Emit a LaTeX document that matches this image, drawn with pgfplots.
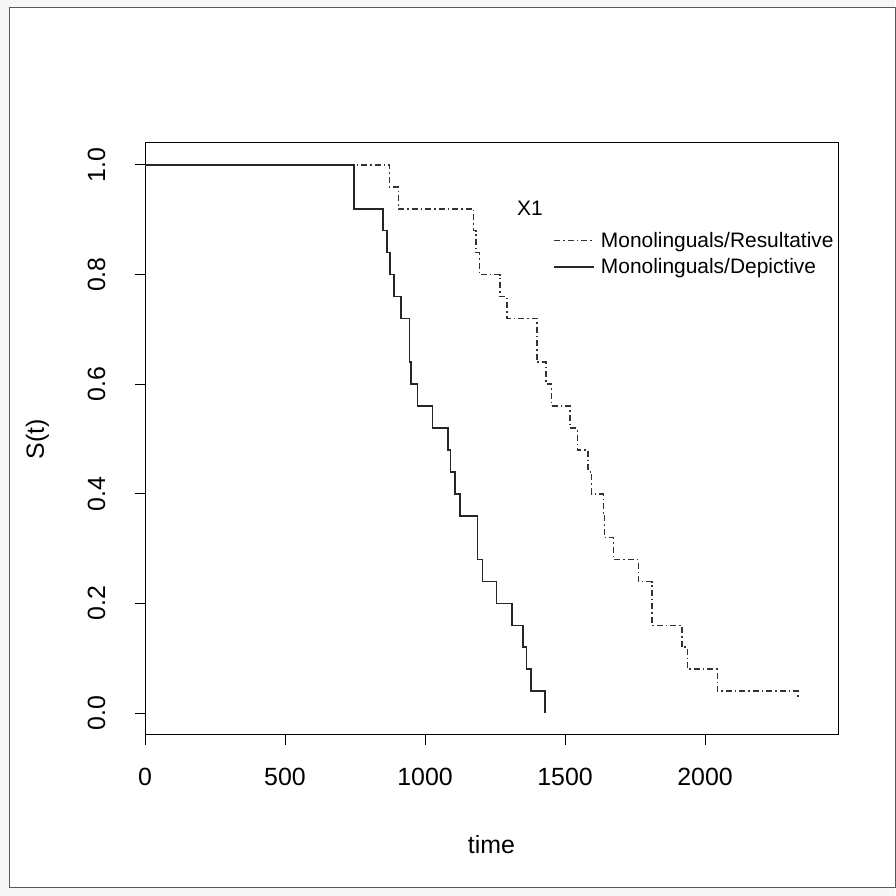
\documentclass[border=0pt]{standalone}
\usepackage{fontspec}
\setmainfont{Liberation Sans}
\usepackage{pgfplots}
\pgfplotsset{compat=1.18}
\begin{document}
\begin{tikzpicture}[x=1bp,y=1bp]
\fill[gray!6] (0,0) rectangle (895,896);
\filldraw[fill=white,draw=gray!70!black,line width=1bp] (9,8) rectangle (895,888);
\begin{axis}[at={(145bp,161bp)},anchor=south west,scale only axis,
 width=693bp,height=592bp,
 xmin=0,xmax=2475,ymin=-0.04,ymax=1.04,
 xtick={0,500,1000,1500,2000},ytick={0,0.2,0.4,0.6,0.8,1.0},
 yticklabels={0.0,0.2,0.4,0.6,0.8,1.0},
 /pgf/number format/1000 sep={},
 tick align=outside,tick pos=left,major tick length=10bp,
 y tick label style={rotate=90,anchor=south,yshift=26bp},
 x tick label style={yshift=-20bp},
 /pgf/number format/assume math mode=true,
 tick label style={font=\fontsize{25}{30}\selectfont},
 label style={font=\fontsize{25}{30}\selectfont},
 xlabel={time},ylabel={S(t)},
 xlabel style={yshift=-42bp},ylabel style={yshift=32bp},
 axis line style={line width=1bp},every tick/.style={line width=1bp,black},
 legend style={draw=none,fill=none,at={(axis cs:1447,0.885)},anchor=north west,
   font=\fontsize{21}{24}\selectfont,row sep=6bp,nodes={inner xsep=6bp}},
 legend cell align=left,
 legend image code/.code={\draw[#1] (0bp,0bp) -- (40bp,0bp);},
]
\addplot[const plot,black!80,line width=1.6bp,dash pattern=on 6bp off 3bp on 1.5bp off 3bp] coordinates {
(0,1.0)(873,0.96)(905,0.92)(1173,0.88)(1182,0.84)(1194,0.80)(1268,0.76)(1293,0.72)(1399,0.64)(1432,0.60)(1452,0.56)(1518,0.52)(1544,0.48)(1583,0.44)(1595,0.40)(1637,0.36)(1641,0.32)(1673,0.28)(1762,0.24)(1810,0.16)(1917,0.12)(1937,0.08)(2044,0.04)(2333,0.04)(2333,0.025)};
\addlegendentry{Monolinguals/Resultative}
\addplot[const plot,black!85,line width=1.6bp] coordinates {
(0,1.0)(746,0.92)(851,0.88)(865,0.84)(875,0.80)(889,0.76)(914,0.72)(944,0.64)(950,0.60)(973,0.56)(1027,0.52)(1083,0.48)(1091,0.44)(1107,0.40)(1125,0.36)(1188,0.28)(1206,0.24)(1256,0.20)(1310,0.16)(1351,0.12)(1363,0.08)(1379,0.04)(1429,0.0)};
\addlegendentry{Monolinguals/Depictive}
\node[font=\fontsize{21}{24}\selectfont] at (axis cs:1375,0.92) {X1};
\end{axis}
\end{tikzpicture}
\end{document}
